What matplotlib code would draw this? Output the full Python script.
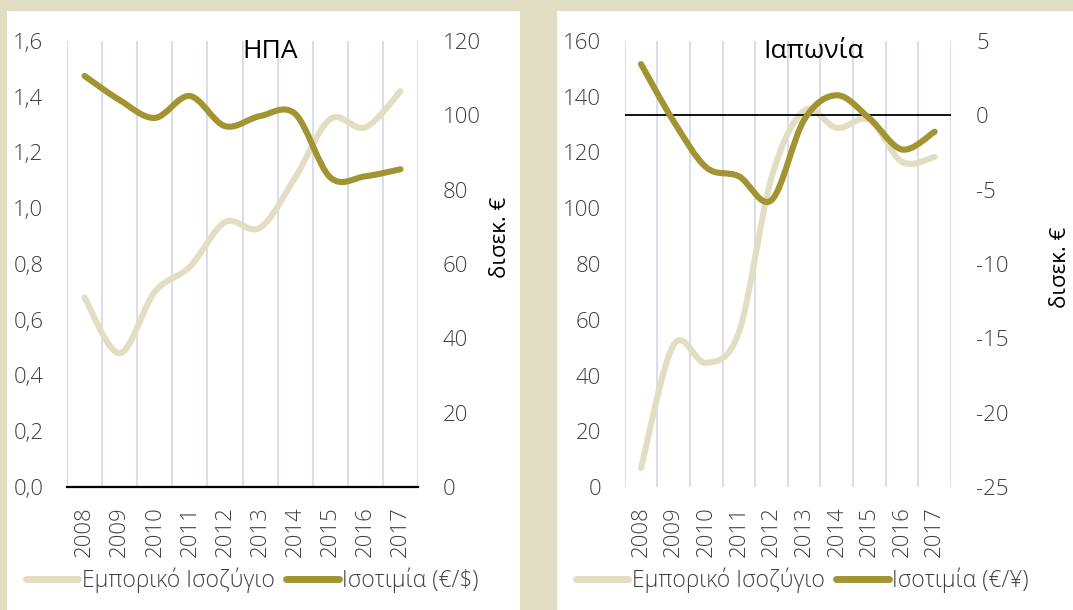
import numpy as np
import matplotlib
matplotlib.use("Agg")
import matplotlib.pyplot as plt
from matplotlib.path import Path
from matplotlib.patches import PathPatch, Rectangle
from matplotlib.lines import Line2D

plt.rcParams['font.family'] = ['Open Sans', 'DejaVu Sans']
plt.rcParams['font.weight'] = 'light'

years = ['2008', '2009', '2010', '2011', '2012', '2013', '2014', '2015', '2016', '2017']

# ΗΠΑ: ισοτιμία (αριστερός άξονας), εμπορικό ισοζύγιο σε δισεκ. € (δεξιός)
us_fx = [0.68, 0.48, 0.70, 0.79, 0.95, 0.93, 1.11, 1.32, 1.29, 1.42]
us_trade = [110.6, 104.1, 99.3, 105.2, 97.1, 99.8, 100.4, 83.3, 83.6, 85.5]

# Ιαπωνία
jp_fx = [6.8, 51.0, 44.5, 55.6, 111.0, 135.0, 128.8, 131.7, 116.6, 118.4]
jp_trade = [3.45, -0.4, -3.5, -4.1, -5.7, -0.3, 1.35, -0.2, -2.3, -1.1]

BEIGE = '#E2DEC3'
OLIVE = '#A19431'
GRID = '#D9DFE8'
TXT = '#404040'
FS = 16


def smooth_path(xs, ys):
    # Bezier segments like Excel's smoothed line
    p = np.column_stack([xs, ys]).astype(float)
    n = len(p)
    verts = [p[0]]
    codes = [Path.MOVETO]
    for i in range(n - 1):
        p0 = p[i - 1] if i > 0 else p[i]
        p3 = p[i + 2] if i + 2 < n else p[i + 1]
        c1 = p[i] + (p[i + 1] - p0) / 6.0
        c2 = p[i + 1] - (p3 - p[i]) / 6.0
        verts += [c1, c2, p[i + 1]]
        codes += [Path.CURVE4] * 3
    return Path(verts, codes)


def add_curve(ax, ys, color):
    patch = PathPatch(smooth_path(np.arange(len(ys)), ys), facecolor='none',
                      edgecolor=color, lw=4.4, capstyle='round', joinstyle='round',
                      zorder=3)
    ax.add_patch(patch)


def panel(rect, left_data, right_data, left_lim, left_ticks, left_fmt,
          right_lim, right_ticks, zero_line_left):
    ax = fig.add_axes(rect)
    ax2 = ax.twinx()
    ax.set_zorder(1)
    ax2.set_zorder(2)
    ax.patch.set_visible(False)

    ax.set_xlim(-0.5, len(years) - 0.5)
    ax.set_ylim(*left_lim)
    ax2.set_ylim(*right_lim)
    ax.set_xticks(np.arange(len(years)))
    ax.set_xticklabels(years, rotation=90, color=TXT, fontsize=FS)
    ax.set_xticks(np.arange(len(years) + 1) - 0.5, minor=True)
    ax.grid(which='minor', axis='x', color=GRID, lw=1.5, zorder=0)
    ax.set_yticks(left_ticks)
    ax.set_yticklabels([left_fmt(v) for v in left_ticks], color=TXT, fontsize=FS)
    ax2.set_yticks(right_ticks)
    ax2.set_yticklabels([f'{v:g}' for v in right_ticks], color=TXT, fontsize=FS)
    ax.tick_params(which='both', length=0)
    ax.tick_params(axis='y', pad=17)
    ax.tick_params(axis='x', pad=14)
    ax2.tick_params(length=0, pad=18)
    for a in (ax, ax2):
        for s in a.spines.values():
            s.set_visible(False)
    if zero_line_left:
        ax.spines['bottom'].set_visible(True)
        ax.spines['bottom'].set_color('black')
        ax.spines['bottom'].set_linewidth(1.6)
    else:
        ax2.axhline(0, color='black', lw=1.3, zorder=0)

    add_curve(ax, left_data, BEIGE)
    add_curve(ax2, right_data, OLIVE)
    return ax, ax2


fig = plt.figure(figsize=(10.73, 6.10), dpi=100, facecolor=BEIGE)
W, H = 1073, 610

# white panels on the beige frame
for x0, x1 in [(7, 520), (557, 1073)]:
    fig.patches.append(Rectangle((x0 / W, 0), (x1 - x0) / W, (H - 11) / H,
                                 transform=fig.transFigure, facecolor='white',
                                 edgecolor='none', zorder=0))

ax_us, ax_us2 = panel([67 / W, 1 - 487 / H, 351 / W, 446 / H], us_fx, us_trade,
                      (0, 1.6), np.arange(0, 1.61, 0.2),
                      lambda v: f'{v:.1f}'.replace('.', ','),
                      (0, 120), np.arange(0, 121, 20), True)

ax_jp, ax_jp2 = panel([624.7 / W, 1 - 487 / H, 326.3 / W, 446 / H], jp_fx, jp_trade,
                      (0, 160), np.arange(0, 161, 20), lambda v: f'{v:g}',
                      (-25, 5), np.arange(-25, 6, 5), False)

fig.text(270 / W, 1 - 52 / H, 'ΗΠΑ', ha='center', va='center', fontsize=19,
         color='black', fontweight='normal')
fig.text(814 / W, 1 - 52 / H, 'Ιαπωνία', ha='center', va='center', fontsize=19,
         color='black', fontweight='normal')
fig.text(501 / W, 1 - 237 / H, 'δισεκ. €', rotation=90, ha='center', va='center',
         fontsize=FS, color='black', fontweight='normal')
fig.text(1060 / W, 1 - 267 / H, 'δισεκ. €', rotation=90, ha='center', va='center',
         fontsize=FS, color='black', fontweight='normal')

# legends
for ax, x0, label2 in [(ax_us, 25, 'Ισοτιμία (€/$)'), (ax_jp, 575, 'Ισοτιμία (€/¥)')]:
    handles = [Line2D([], [], color=BEIGE, lw=5, solid_capstyle='round'),
               Line2D([], [], color=OLIVE, lw=5, solid_capstyle='round')]
    fig.legend(handles, ['Εμπορικό Ισοζύγιο', label2], loc='center left',
               bbox_to_anchor=(x0 / W - 0.008, 1 - 580 / H), ncol=2, frameon=False,
               fontsize=16.5, handlelength=2.3, handletextpad=0.15, columnspacing=0.5,
               labelcolor=TXT, borderaxespad=0)

fig.savefig('out.png', dpi=100, facecolor=BEIGE)
